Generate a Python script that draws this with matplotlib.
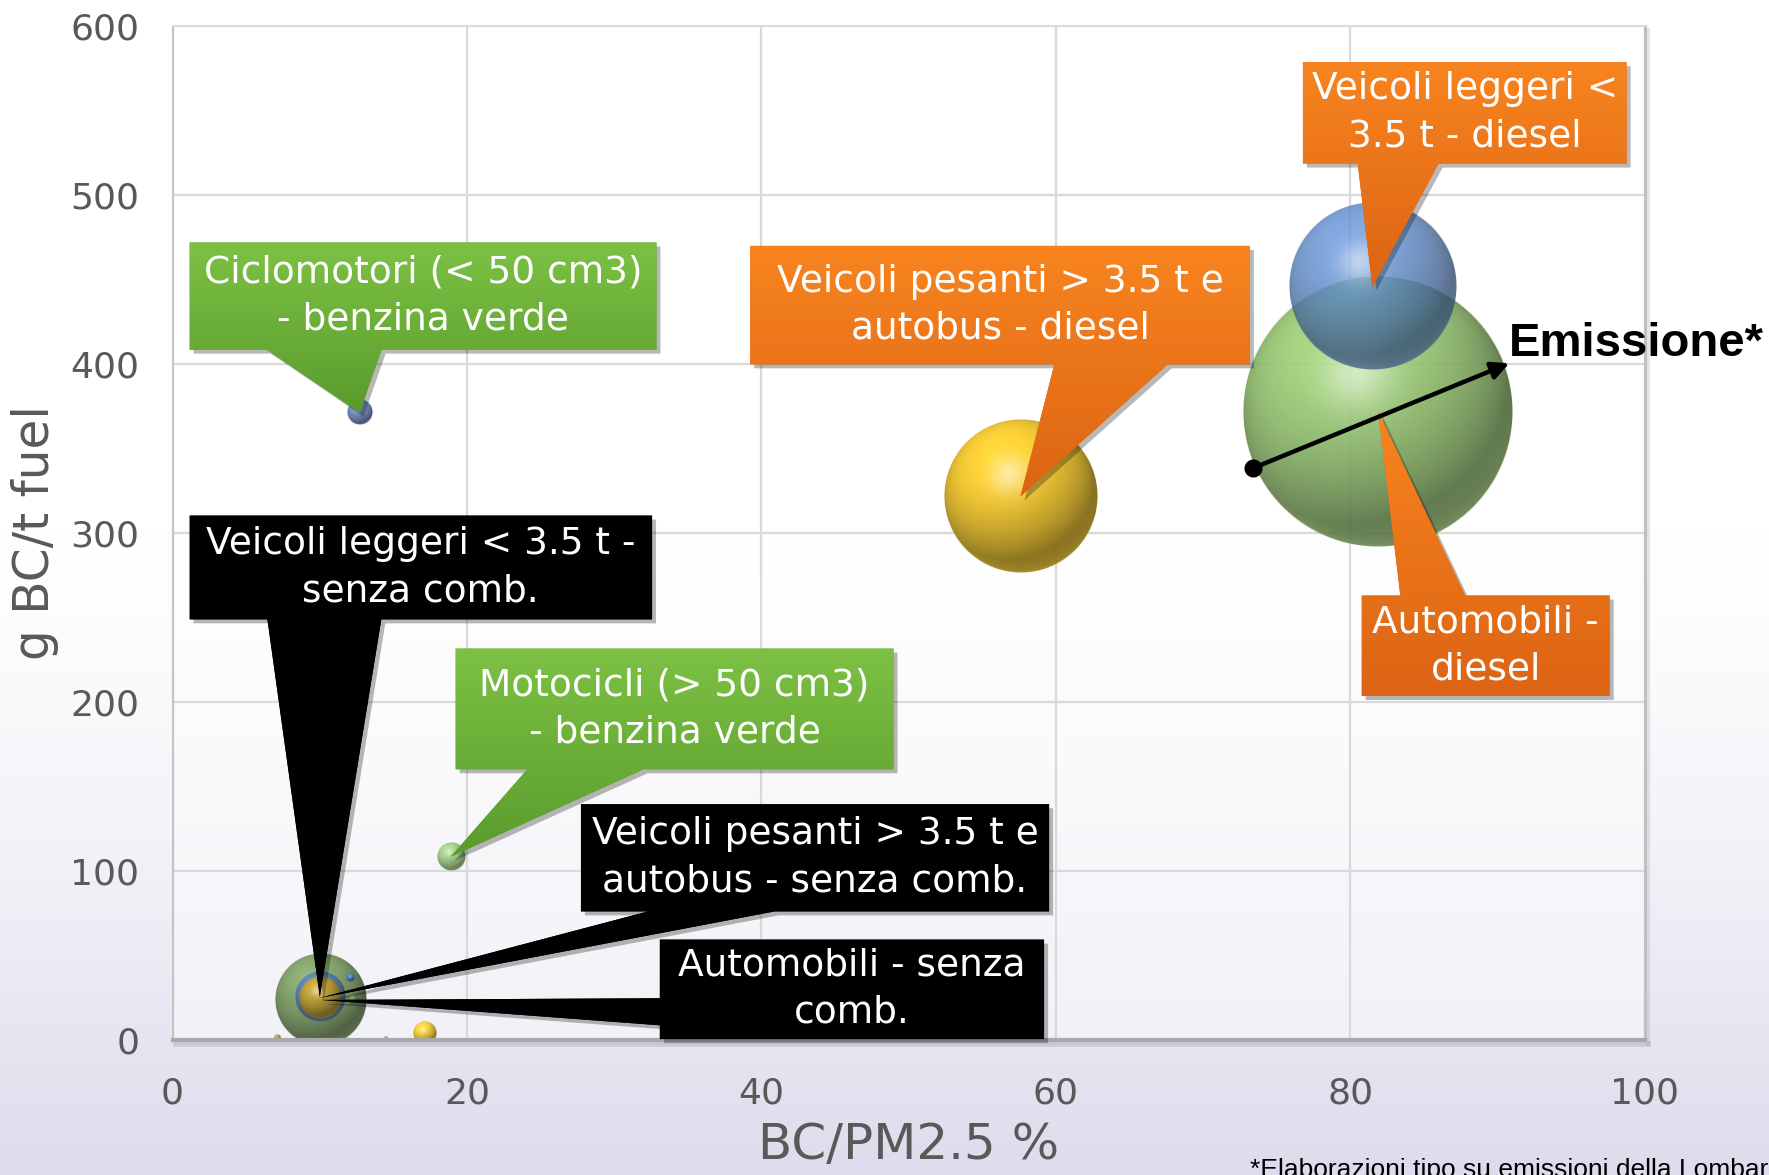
import numpy as np
import matplotlib
matplotlib.use("Agg")
import matplotlib.pyplot as plt
from matplotlib.patches import Polygon
from matplotlib.colors import to_rgb
from matplotlib.transforms import offset_copy

# ---------------------------------------------------------------- data
categorie = [
    "Automobili - diesel",
    "Veicoli leggeri < 3.5 t - diesel",
    "Veicoli pesanti > 3.5 t e autobus - diesel",
    "Ciclomotori (< 50 cm3) - benzina verde",
    "Motocicli (> 50 cm3) - benzina verde",
    "Automobili - senza comb.",
    "Veicoli leggeri < 3.5 t - senza comb.",
    "Veicoli pesanti > 3.5 t e autobus - senza comb.",
    "Veicoli leggeri < 3.5 t - altro",
    "Automobili - altro",
    "Veicoli pesanti > 3.5 t e autobus - altro",
    "Altro 1",
    "Altro 2",
]
bc_pm25 = [81.9, 81.5, 57.6, 12.7, 18.9, 10.1, 10.0, 10.0, 12.05, 12.2, 17.15, 7.07, 14.5]
g_bc_t_fuel = [371.8, 445.8, 321.7, 371.2, 108.5, 23.7, 25.5, 24.9, 36.7, 23.7, 4.0, 1.3, 1.3]
emissione = [100.0, 38.3, 32.3, 0.87, 1.08, 11.6, 3.43, 2.42, 0.088, 0.166, 0.75, 0.05, 0.016]
colori = ["#95c470", "#5b88c8", "#f0c52e", "#6f8cc0", "#9ccc80", "#7f9f66",
          "#4f7fc0", "#d9a514", "#4a7fd0", "#6f9a60", "#f2cf3a", "#b09a40", "#999999"]
opacita = [0.92, 0.80, 0.97, 0.95, 0.90, 0.95, 0.85, 0.78, 0.95, 0.60, 0.97, 0.95, 0.9]
ordine = [0, 1, 2, 3, 4, 5, 6, 7, 8, 9, 10, 11, 12]

x_ticks = [0, 20, 40, 60, 80, 100]
y_ticks = [0, 100, 200, 300, 400, 500, 600]

# ---------------------------------------------------------------- figure
W, H, DPI = 1769, 1175, 100
fig = plt.figure(figsize=(W / DPI, H / DPI), dpi=DPI)

# background: white fading to a light lavender at the bottom
bg = fig.add_axes([0, 0, 1, 1], zorder=-10)
t = np.linspace(0, 1, 400)[:, None]
f = np.clip((t - 0.45) / 0.55, 0, 1) ** 1.4
top_c = np.array([1.0, 1.0, 1.0])
bot_c = np.array(to_rgb("#dcdcec"))
grad = top_c * (1 - f[..., None]) + bot_c * f[..., None]
grad = np.repeat(grad, 2, axis=1)
bg.imshow(grad, aspect="auto", extent=[0, 1, 0, 1], origin="upper")
bg.set_axis_off()

ax = fig.add_axes([172.6 / W, 135 / H, (1644.7 - 172.6) / W, (1040 - 26) / H])
ax.set_facecolor((1, 1, 1, 0.45))
ax.set_xlim(0, 100)
ax.set_ylim(0, 600)
ax.set_autoscale_on(False)
ax.set_xticks(x_ticks)
ax.set_yticks(y_ticks)
ax.tick_params(length=0, labelsize=26, labelcolor="#595959", pad=24)
ax.tick_params(axis="x", pad=26)
for lab in ax.get_xticklabels() + ax.get_yticklabels():
    lab.set_family("DejaVu Sans")
ax.grid(True, color="#d9d9d9", lw=1.6, zorder=0)
ax.set_axisbelow(True)
ax.spines["left"].set_color("#c4c4c4")
ax.spines["left"].set_linewidth(1.5)
ax.spines["top"].set_color("#dcdcdc")
ax.spines["top"].set_linewidth(1.5)
ax.spines["right"].set_color("#c0c0c0")
ax.spines["right"].set_linewidth(2.2)
ax.spines["bottom"].set_color("#a8a8a8")
ax.spines["bottom"].set_linewidth(3)

ax.set_xlabel("BC/PM2.5 %", fontsize=36, color="#595959", family="DejaVu Sans", labelpad=8)
ax.set_ylabel("g BC/t fuel", fontsize=35, color="#595959", family="DejaVu Sans", labelpad=8)

# soft shadow under the frame
sh = offset_copy(ax.transAxes, fig=fig, x=3, y=-4, units="dots")
ax.plot([0.0, 1.0], [0, 0], transform=sh, color="#9a9aa8", alpha=0.35, lw=4, clip_on=False, zorder=0.5)
ax.plot([1.0, 1.0], [0, 1.0], transform=sh, color="#9a9aa8", alpha=0.25, lw=3, clip_on=False, zorder=0.5)


# ---------------------------------------------------------------- bubbles
def sphere_image(color, n, alpha):
    base = np.array(to_rgb(color))
    lin = np.linspace(-1, 1, n)
    u, v = np.meshgrid(lin, -lin)
    rr = np.sqrt(u ** 2 + v ** 2)
    z = np.sqrt(np.clip(1 - rr ** 2, 0, 1))
    L = np.array([-0.3, 0.55, 0.78])
    L /= np.linalg.norm(L)
    diff = np.clip(u * L[0] + v * L[1] + z * L[2], 0, 1)
    shade = 0.55 + 0.55 * diff
    rgb = base[None, None, :] * shade[..., None]
    Hv = L + np.array([0, 0, 1.0])
    Hv /= np.linalg.norm(Hv)
    spec = np.clip(u * Hv[0] + v * Hv[1] + z * Hv[2], 0, 1) ** 30 * 0.5
    rgb = rgb + (1 - rgb) * spec[..., None]
    rim = np.clip(-v, 0, 1) * np.clip(1 - z, 0, 1) ** 2 * 0.35
    rgb = rgb + (1 - rgb) * rim[..., None] * base[None, None, :]
    rgb = np.clip(rgb, 0, 1)
    edge = np.clip((1 - rr) * n / 2 + 0.5, 0, 1)
    return np.dstack([rgb, alpha * edge])


R_MAX = 135.0  # pixel radius of the largest bubble
e_max = max(emissione)
inv = ax.transData.inverted()
for k, i in enumerate(ordine):
    r = R_MAX * np.sqrt(emissione[i] / e_max)
    cx, cy = ax.transData.transform((bc_pm25[i], g_bc_t_fuel[i]))
    x0, y0 = inv.transform((cx - r, cy - r))
    x1, y1 = inv.transform((cx + r, cy + r))
    n = max(int(2 * r) + 2, 12)
    img = sphere_image(colori[i], n, opacita[i])
    ax.imshow(img, extent=(x0, x1, y0, y1), origin="upper", aspect="auto",
              interpolation="bilinear", zorder=2 + 0.01 * k)


# ---------------------------------------------------------------- callouts
def callout(box, side, base, idx, text, c_top, c_bot):
    x0, x1, yb, yt = box
    tip = (bc_pm25[idx], g_bc_t_fuel[idx])
    if side == "bottom":
        verts = [(x0, yt), (x1, yt), (x1, yb), (base[1], yb), tip, (base[0], yb), (x0, yb)]
    elif side == "top":
        verts = [(x0, yt), (base[0], yt), tip, (base[1], yt), (x1, yt), (x1, yb), (x0, yb)]
    else:  # left
        verts = [(x0, yt), (x1, yt), (x1, yb), (x0, yb), (x0, base[1]), tip, (x0, base[0])]
    shadow = Polygon(verts, closed=True, fc="black", ec="none", alpha=0.28, zorder=5,
                     transform=offset_copy(ax.transData, fig=fig, x=4, y=-4, units="dots"),
                     clip_on=False)
    body = Polygon(verts, closed=True, fc=c_bot, ec="none", zorder=6, clip_on=False)
    ax.add_patch(shadow)
    ax.add_patch(body)
    vx = [p[0] for p in verts]
    vy = [p[1] for p in verts]
    tt = np.linspace(0, 1, 64)[:, None]
    g = np.array(to_rgb(c_top)) * (1 - tt[..., None]) + np.array(to_rgb(c_bot)) * tt[..., None]
    g = np.repeat(g, 2, axis=1)
    im = ax.imshow(g, extent=(min(vx), max(vx), min(vy), max(vy)), origin="upper",
                   aspect="auto", zorder=6.1, interpolation="bilinear")
    im.set_clip_path(body)
    ax.text((x0 + x1) / 2, (yb + yt) / 2, text, ha="center", va="center", color="white",
            fontsize=27, family="DejaVu Sans", linespacing=1.4, zorder=7)


GREEN = ("#7cc144", "#5a9c2c")
ORANGE = ("#f8841f", "#dc6414")
BLACK = ("#000000", "#000000")

callout((1.15, 32.87, 408.5, 471.9), "bottom", (6.4, 14.2), 3,
        "Ciclomotori (< 50 cm3)\n- benzina verde", *GREEN)
callout((39.23, 73.18, 399.8, 469.9), "bottom", (59.9, 67.6), 2,
        "Veicoli pesanti > 3.5 t e\nautobus - diesel", *ORANGE)
callout((76.78, 98.77, 518.6, 578.6), "bottom", (80.5, 86.0), 1,
        "Veicoli leggeri <\n3.5 t - diesel", *ORANGE)
callout((80.77, 97.62, 203.6, 263.0), "top", (83.4, 87.8), 0,
        "Automobili -\ndiesel", *ORANGE)
callout((1.15, 32.57, 248.9, 310.3), "bottom", (6.44, 14.18), 6,
        "Veicoli leggeri < 3.5 t -\nsenza comb.", *BLACK)
callout((19.23, 48.97, 160.2, 231.6), "bottom", (24.1, 32.0), 4,
        "Motocicli (> 50 cm3)\n- benzina verde", *GREEN)
callout((27.74, 59.54, 76.1, 139.5), "bottom", (32.3, 40.9), 7,
        "Veicoli pesanti > 3.5 t e\nautobus - senza comb.", *BLACK)
callout((33.1, 59.2, 0.5, 59.4), "left", (24.7, 8.7), 5,
        "Automobili - senza\ncomb.", *BLACK)

# ---------------------------------------------------------------- emission arrow
ax.annotate("", xy=(90.8, 400.4), xytext=(73.4, 338.4),
            arrowprops=dict(arrowstyle="-|>", color="black", lw=3.2, mutation_scale=26,
                            shrinkA=0, shrinkB=0), zorder=8, annotation_clip=False)
ax.plot([73.4], [338.4], "o", color="black", ms=12, zorder=8, clip_on=False)
ax.text(90.8, 411.8, "Emissione*", fontsize=34, fontweight="bold", family="Liberation Sans",
        ha="left", va="center", color="black", zorder=8, clip_on=False)

fig.text(1250 / W, -2 / H, "*Elaborazioni tipo su emissioni della Lombardia",
         fontsize=19, family="Liberation Sans", ha="left", va="baseline", color="black")

fig.savefig("out.png", dpi=DPI)
